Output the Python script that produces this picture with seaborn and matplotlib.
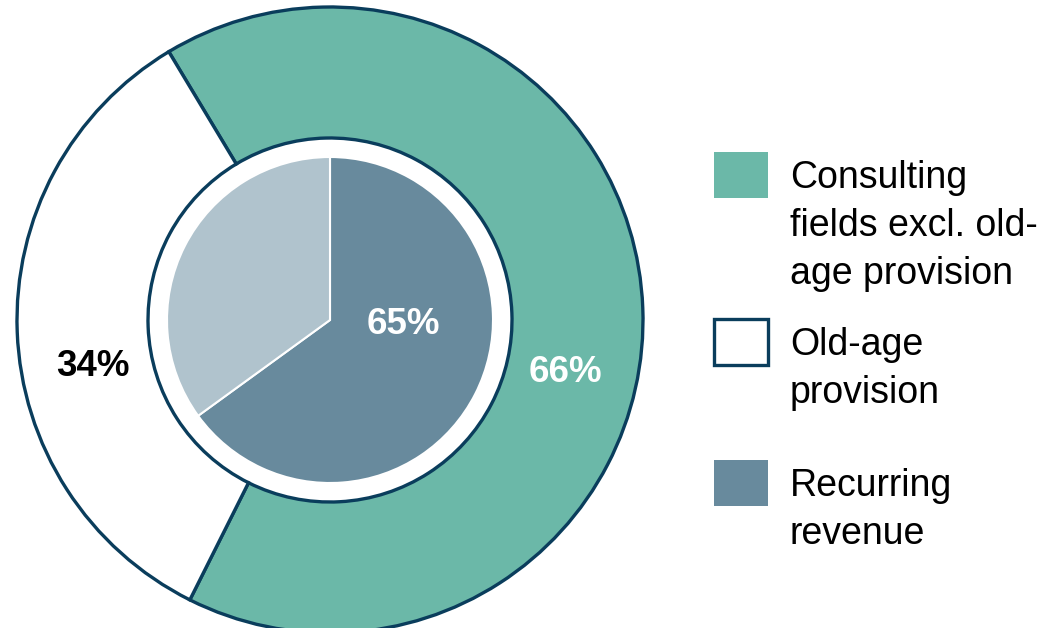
import numpy as np
import pandas as pd
import seaborn as sns
import matplotlib.pyplot as plt
from matplotlib.patches import Rectangle

# data
outer_labels = ["Consulting\nfields excl. old-\nage provision", "Old-age\nprovision"]
outer_values = [66, 34]
inner_labels = ["Recurring\nrevenue", "Other"]
inner_values = [65, 35]

green = "#6BB8A8"
navy = "#0A3D5C"
slate = "#688A9D"
light = "#B0C3CD"

sns.set_theme(style="white")
plt.rcParams["font.family"] = ["Liberation Sans", "DejaVu Sans"]

W, H = 1063, 628
fig = plt.figure(figsize=(W / 100, H / 100), dpi=100)

# pie axes: center (330, 320) px, outer radius 313 px
cx, cy, R = 330, 320, 313
lim = 1.05
size = 2 * lim * R
ax = fig.add_axes([(cx - lim * R) / W, (H - cy - lim * R) / H, size / W, size / H])

ax.pie(outer_values, radius=1.0, colors=[green, "white"], startangle=121,
       counterclock=False,
       wedgeprops=dict(width=131 / R, edgecolor=navy, linewidth=2.4))
ax.pie(inner_values, radius=163 / R, colors=[slate, light], startangle=90,
       counterclock=False,
       wedgeprops=dict(edgecolor="white", linewidth=1.5))
ax.set_xlim(-lim, lim)
ax.set_ylim(-lim, lim)
ax.set_aspect("equal")
ax.axis("off")

# percent labels
lab_kw = dict(ha="center", va="center", fontsize=26.5, fontweight="bold")
ax.text(-237 / R, -46 / R, f"{outer_values[1]}%", color="black", **lab_kw)
ax.text(235 / R, -52 / R, f"{outer_values[0]}%", color="white", **lab_kw)
ax.text(73 / R, -5 / R, f"{inner_values[0]}%", color="white", **lab_kw)

# legend drawn in pixel space
lax = fig.add_axes([0, 0, 1, 1])
lax.set_xlim(0, W)
lax.set_ylim(H, 0)
lax.axis("off")

leg_labels = [outer_labels[0], outer_labels[1], inner_labels[0]]
leg_faces = [green, "white", slate]
leg_edges = [green, navy, slate]
leg_tops = [151, 318, 459]
for lab, fc, ec, top in zip(leg_labels, leg_faces, leg_edges, leg_tops):
    lax.add_patch(Rectangle((714, top + 1), 54, 46, facecolor=fc, edgecolor=ec,
                            linewidth=2.4 if fc == "white" else 0))
    lax.text(790, top + 9, lab, ha="left", va="top", fontsize=27,
             color="black", linespacing=1.42)

fig.savefig("out.png", dpi=100)
